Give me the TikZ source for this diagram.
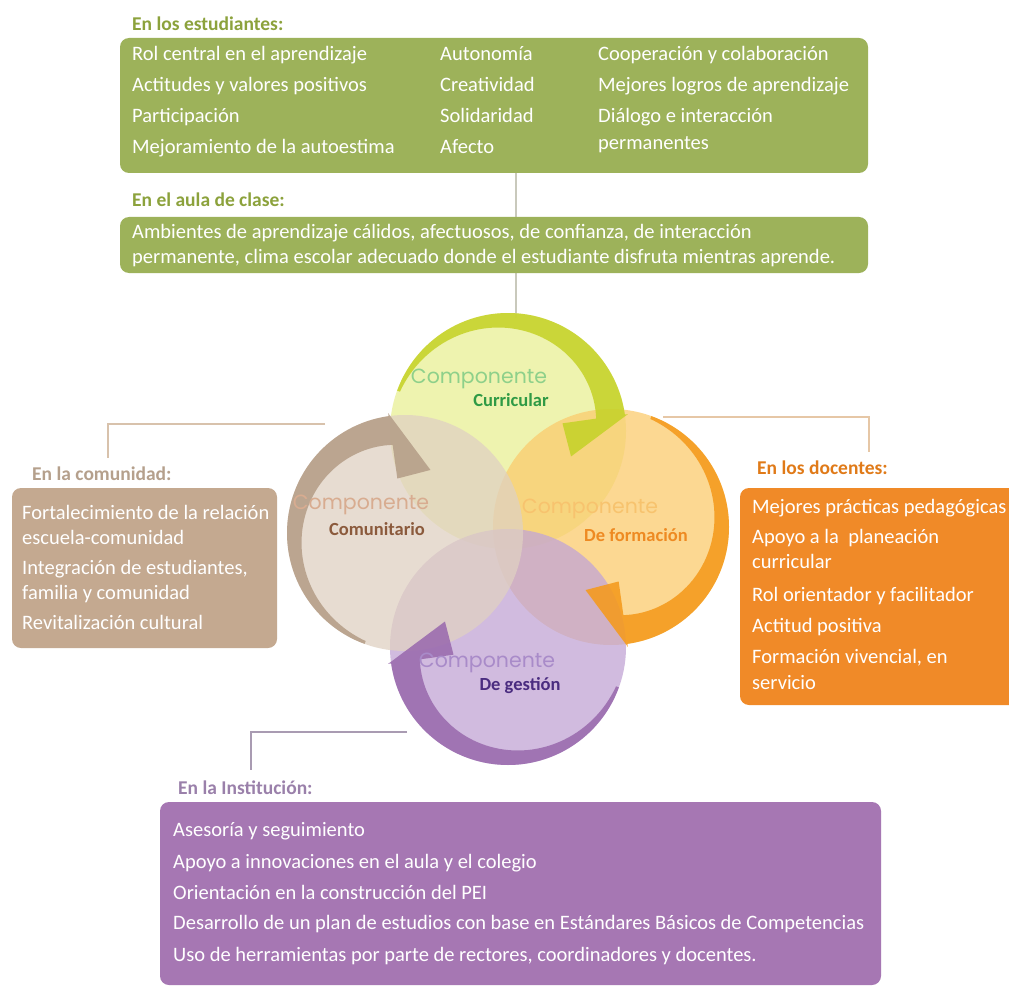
\documentclass[tikz,border=0pt]{standalone}
\usepackage{fontspec}
\setmainfont{Carlito}
\newfontfamily\compfont{Poppins}
\definecolor{topgreen}{HTML}{9DB25A}
\definecolor{topttl}{HTML}{8CA23C}
\definecolor{comubox}{HTML}{C4A990}
\definecolor{comuttl}{HTML}{B5A08C}
\definecolor{docbox}{HTML}{F08A28}
\definecolor{docttl}{HTML}{E07A18}
\definecolor{instbox}{HTML}{A677B3}
\definecolor{instttl}{HTML}{9A80AA}
\definecolor{currfill}{HTML}{E9EF95}
\definecolor{currring}{HTML}{C6D229}
\definecolor{formfill}{HTML}{FBCB6E}
\definecolor{formring}{HTML}{F59A1C}
\definecolor{comufill}{HTML}{E0D1C2}
\definecolor{comuring}{HTML}{B59E88}
\definecolor{gestfill}{HTML}{C2A5D5}
\definecolor{gestring}{HTML}{9A6BAE}
\definecolor{currlight}{HTML}{8ED08A}
\definecolor{currdark}{HTML}{2F9A45}
\definecolor{comulight}{HTML}{D8AC90}
\definecolor{comudark}{HTML}{8B5A3C}
\definecolor{formlight}{HTML}{F7C36E}
\definecolor{formdark}{HTML}{EE8A22}
\definecolor{gestlight}{HTML}{A98BC9}
\definecolor{gestdark}{HTML}{4A2C80}
\definecolor{linkgray}{HTML}{C9C9BC}
\definecolor{linktan}{HTML}{D8C2AC}
\definecolor{linkorange}{HTML}{E6C7A6}
\definecolor{linkpurple}{HTML}{A99BB2}
\begin{document}
\begin{tikzpicture}[x=1pt,y=-1pt,
  txt/.style={anchor=base west, inner sep=0pt, font=\fontsize{20.5}{24}\selectfont, text=white},
  ttl/.style={anchor=base west, inner sep=0pt, font=\bfseries\fontsize{19.5}{24}\selectfont},
  panel/.style={rounded corners=9pt, inner sep=0pt, draw=none},
  link/.style={line width=1.1pt},
  complbl/.style={inner sep=0pt, font=\compfont\fontsize{20.5}{24}\selectfont},
  compname/.style={inner sep=0pt, font=\bfseries\fontsize{18.5}{22}\selectfont}]
\fill[white] (0,0) rectangle (1009,987);
\path[use as bounding box] (0,0) rectangle (1009,987);

% connectors
\coordinate (tA) at (516,173); \coordinate (tB) at (516,318);
\draw[link, linkgray] (tA) -- (tB);
\coordinate (lA) at (325,424); \coordinate (lB) at (108,424); \coordinate (lC) at (108,458);
\draw[link, linktan] (lA) -- (lB) -- (lC);
\coordinate (rA) at (663,417); \coordinate (rB) at (869,417); \coordinate (rC) at (869,452);
\draw[link, linkorange] (rA) -- (rB) -- (rC);
\coordinate (bA) at (407,732); \coordinate (bB) at (251,732); \coordinate (bC) at (251,770);
\draw[link, linkpurple] (bA) -- (bB) -- (bC);

% component discs
\foreach \cx/\cy/\fc in {508/431/currfill, 611/527/formfill, 508/647/gestfill, 405/533/comufill}
  \fill[\fc, fill opacity=.75] (\cx,\cy) circle (118);
% rings with arrowheads
\foreach \cx/\cy/\rot/\rc in {508/431/0/currring, 611/527/-90/formring, 508/647/-180/gestring, 405/533/90/comuring}{
  \begin{scope}[shift={(\cx,\cy)}, rotate=\rot]
    \fill[\rc, opacity=.88] plot[domain=200:352, samples=60] (\x:118) -- (352:121) -- (22:68) -- (352:55)
      -- plot[domain=352:200, samples=60] (\x:{118-3-26*(\x-200)/152}) -- cycle;
  \end{scope}
}
% component labels
\node[complbl, text=currlight] (currA) at (479,379) {Componente};
\node[compname, text=currdark] (currB) at (511,400) {Curricular};
\node[complbl, text=comulight] (comuA) at (361,505) {Componente};
\node[compname, text=comudark] (comuB) at (377,529) {Comunitario};
\node[complbl, text=formlight] (formA) at (590,509) {Componente};
\node[compname, text=formdark] (formB) at (636,535) {De formación};
\node[complbl, text=gestlight] (gestA) at (487,663) {Componente};
\node[compname, text=gestdark] (gestB) at (520,686) {De gestión};

% top panels
\node[ttl, text=topttl] (stuT) at (132,31) {En los estudiantes:};
\node[panel, fill=topgreen, minimum width=748pt, minimum height=135pt] (stubox) at (494,105.5) {};
\foreach \t [count=\i] in {Rol central en el aprendizaje, Actitudes y valores positivos, Participación, Mejoramiento de la autoestima}
  \node[txt] (sa\i) at (132,{61+31*(\i-1)}) {\t};
\foreach \t [count=\i] in {Autonomía, Creatividad, Solidaridad, Afecto}
  \node[txt] (sb\i) at (440,{61+31*(\i-1)}) {\t};
\foreach \y/\t [count=\i] in {61/Cooperación y colaboración, 92/Mejores logros de aprendizaje, 123/Diálogo e interacción, 150/permanentes}
  \node[txt] (sc\i) at (598,\y) {\t};

\node[ttl, text=topttl] (aulaT) at (132,207) {En el aula de clase:};
\node[panel, fill=topgreen, minimum width=748pt, minimum height=56pt] (aulabox) at (494,245) {};
\node[txt] (au1) at (132,238) {Ambientes de aprendizaje cálidos, afectuosos, de confianza, de interacción};
\node[txt] (au2) at (132,263) {permanente, clima escolar adecuado donde el estudiante disfruta mientras aprende.};

% left panel
\node[ttl, text=comuttl] (comT) at (32,480) {En la comunidad:};
\node[panel, fill=comubox, minimum width=265pt, minimum height=160pt] (combox) at (144.5,568) {};
\foreach \y/\t [count=\i] in {519/Fortalecimiento de la relación, 544/escuela-comunidad, 574/{Integración de estudiantes,}, 599/familia y comunidad, 629/Revitalización cultural}
  \node[txt] (cm\i) at (22,\y) {\t};

% right panel
\node[ttl, text=docttl] (docT) at (757,474) {En los docentes:};
\node[panel, fill=docbox, minimum width=280pt, minimum height=217pt] (docbox) at (880,596.5) {};
\foreach \y/\t [count=\i] in {513/Mejores prácticas pedagógicas, 543/Apoyo a la\ \ planeación, 568/curricular, 601/Rol orientador y facilitador, 632/Actitud positiva, 663/{Formación vivencial, en}, 689/servicio}
  \node[txt] (dc\i) at (752,\y) {\t};

% bottom panel
\node[ttl, text=instttl] (insT) at (178,794) {En la Institución:};
\node[panel, fill=instbox, minimum width=721pt, minimum height=183pt] (insbox) at (520.5,893.5) {};
\foreach \y/\t [count=\i] in {836/Asesoría y seguimiento, 868/Apoyo a innovaciones en el aula y el colegio, 899/Orientación en la construcción del PEI, 929/Desarrollo de un plan de estudios con base en Estándares Básicos de Competencias, 961/{Uso de herramientas por parte de rectores, coordinadores y docentes.}}
  \node[txt] (in\i) at (173,\y) {\t};
\end{tikzpicture}
\end{document}
